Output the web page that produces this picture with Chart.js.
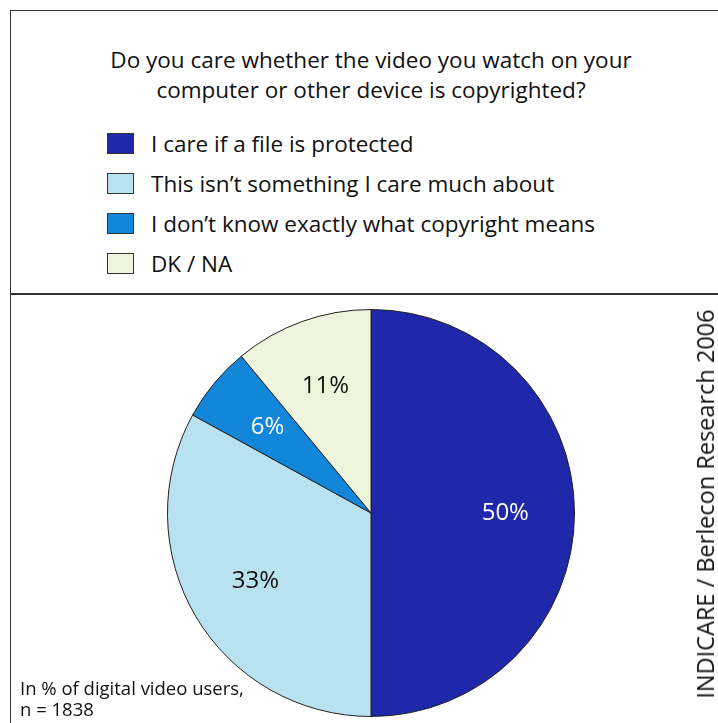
<!DOCTYPE html>
<html>
<head>
<meta charset="utf-8">
<script src="https://cdn.jsdelivr.net/npm/chart.js@4"></script>
<style>
  body { margin: 0; background: #fff; font-family: "Open Sans", "Noto Sans", sans-serif; color: #111; }
  #wrap { position: relative; width: 718px; height: 723px; overflow: hidden; }
  .line { position: absolute; background: #333; }
  #titulo { position: absolute; left: 10px; width: 722px; top: 45px; text-align: center; font-size: 22.5px; line-height: 30px; }
  #leyenda { position: absolute; left: 107px; top: 128px; font-size: 22.5px; }
  .item { height: 40px; display: flex; align-items: flex-start; }
  .caja { width: 27px; height: 21px; border: 1px solid #333; margin-top: 5px; margin-right: 17px; box-sizing: border-box; }
  #nota { position: absolute; left: 20px; top: 677px; font-size: 18.5px; line-height: 21px; }
  #fuente { position: absolute; left: 705px; top: 504px; transform: translate(-50%, -50%) rotate(-90deg); white-space: nowrap; font-size: 23.5px; }
  canvas { position: absolute; left: 0; top: 0; }
</style>
</head>
<body>
<div id="wrap">
  <div class="line" style="left:10px; top:10px; width:708px; height:1px;"></div>
  <div class="line" style="left:10px; top:10px; width:1px; height:713px;"></div>
  <div class="line" style="left:10px; top:293px; width:708px; height:2px;"></div>
  <div id="titulo">Do you care whether the video you watch on your<br>computer or other device is copyrighted?</div>
  <div id="leyenda"></div>
  <canvas id="grafica" width="718" height="723"></canvas>
  <div id="nota">In % of digital video users,<br>n = 1838</div>
  <div id="fuente">INDICARE / Berlecon Research 2006</div>
</div>
<script>
// Datos del gráfico
const categorias = [
    "I care if a file is protected",
    "This isn\u2019t something I care much about",
    "I don\u2019t know exactly what copyright means",
    "DK / NA"
];
const valores = [50, 33, 6, 11];
const etiquetas = ["50%", "33%", "6%", "11%"];

const colores = ["#1e28a8", "#b9e2f0", "#1287d9", "#eef5dc"];
const coloresTexto = ["#ffffff", "#111111", "#ffffff", "#111111"];

// Leyenda en HTML
const leyenda = document.getElementById("leyenda");
categorias.forEach((cat, i) => {
    leyenda.insertAdjacentHTML('beforeend',
        `<div class="item"><div class="caja" style="background:${colores[i]}"></div><span>${cat}</span></div>`);
});

// Plugin para poner los porcentajes dentro de cada sector
const etiquetasPlugin = {
    id: 'etiquetas',
    afterDatasetsDraw(chart) {
        const ctx = chart.ctx;
        const meta = chart.getDatasetMeta(0);
        ctx.save();
        ctx.font = '24px "Open Sans", "Noto Sans", sans-serif';
        ctx.textAlign = 'center';
        ctx.textBaseline = 'middle';
        meta.data.forEach((arc, i) => {
            const p = arc.getProps(['x', 'y', 'startAngle', 'endAngle', 'outerRadius'], true);
            const medio = (p.startAngle + p.endAngle) / 2;
            const r = p.outerRadius * 0.66;
            ctx.fillStyle = coloresTexto[i];
            ctx.fillText(etiquetas[i], p.x + Math.cos(medio) * r, p.y + Math.sin(medio) * r);
        });
        ctx.restore();
    }
};

new Chart(document.getElementById("grafica").getContext('2d'), {
    type: 'pie',
    data: {
        labels: categorias,
        datasets: [{
            data: valores,
            backgroundColor: colores,
            borderColor: '#222',
            borderWidth: 1
        }]
    },
    options: {
        responsive: false,
        animation: false,
        layout: { padding: { left: 167, right: 143, top: 309, bottom: 6 } },
        plugins: {
            legend: { display: false },
            tooltip: { enabled: false }
        }
    },
    plugins: [etiquetasPlugin]
});
</script>
</body>
</html>
